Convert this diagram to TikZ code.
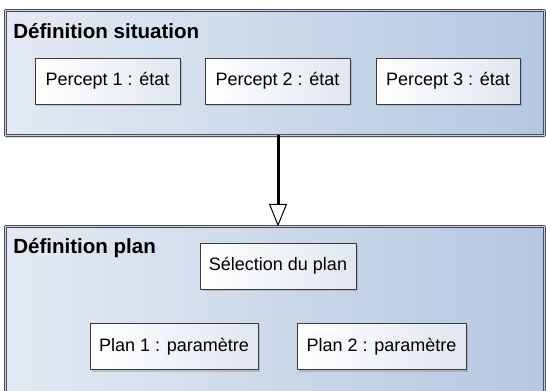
\documentclass[tikz,border=0pt]{standalone}
\usepackage{fontspec}
\setmainfont{Liberation Sans}
\usetikzlibrary{arrows.meta,shadows}

\definecolor{pkgborder}{HTML}{4A4F57}
\definecolor{pkggap}{HTML}{C9CFD8}
\definecolor{pkgleft}{HTML}{E4EAF3}
\definecolor{pkgright}{HTML}{B5C7E0}
\definecolor{boxborder}{HTML}{3A3A3A}
\definecolor{boxright}{HTML}{E1E7F0}

\begin{document}
\begin{tikzpicture}[
  x=0.75pt,
  y=-0.75pt,
  line join=round,
  package/.style={draw=pkgborder,line width=0.75pt,double=pkggap,double distance=1.1pt,
    left color=pkgleft,right color=pkgright,inner sep=0pt,outer sep=0pt,
    drop shadow={shadow xshift=0pt,shadow yshift=-2pt,opacity=0.25}},
  pkgtitle/.style={anchor=base west,inner sep=0pt,font=\fontsize{15.4}{18}\selectfont\bfseries},
  element/.style={draw=boxborder,line width=0.75pt,left color=white,right color=boxright,
    inner sep=0pt,outer sep=0pt,font=\fontsize{13.5}{16}\selectfont,
    drop shadow={shadow xshift=1.5pt,shadow yshift=-1.5pt,opacity=0.35}},
  flow/.style={draw=black,line width=2.25pt,
    -{Triangle[open,length=17pt,width=13.5pt,line width=0.75pt,fill=white]}}
]
  % Match the 546x390 frame; the lower package runs past the bottom edge.
  \useasboundingbox (0,0) rectangle (546,390);

  % Package frames.
  \node[package,minimum width=404pt,minimum height=93.5pt] (situation) at (275,73) {};
  \node[package,minimum width=404pt,minimum height=150pt] (plan) at (275,326.5) {};
  \node[pkgtitle] (situationtitle) at (13,38) {Définition situation};
  \node[pkgtitle] (plantitle) at (13,253) {Définition plan};

  % Percepts in the situation package.
  \node[element,minimum width=108.75pt,minimum height=34.5pt] (percept1) at (107.5,81) {Percept 1 : état};
  \node[element,minimum width=108.75pt,minimum height=34.5pt] (percept2) at (277.5,81) {Percept 2 : état};
  \node[element,minimum width=108pt,minimum height=34.5pt] (percept3) at (448,81) {Percept 3 : état};

  % Elements of the plan package.
  \node[element,minimum width=117pt,minimum height=34.5pt] (selection) at (278,266) {Sélection du plan};
  \node[element,minimum width=126pt,minimum height=35pt] (plan1) at (174,346.5) {Plan 1 : paramètre};
  \node[element,minimum width=126.75pt,minimum height=35pt] (plan2) at (381.5,346.5) {Plan 2 : paramètre};

  % Dependency from situation to plan.
  \draw[flow] (situation.south -| selection.north) -- (plan.north -| selection.north);
\end{tikzpicture}
\end{document}
